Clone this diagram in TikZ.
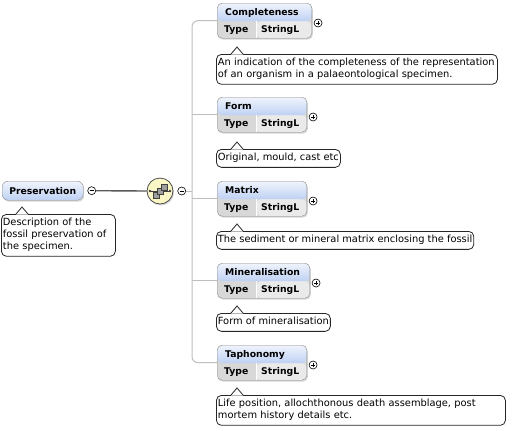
\documentclass[tikz,border=0pt]{standalone}
\usepackage{fontspec}
\setmainfont{DejaVu Sans}
\usetikzlibrary{positioning,shadows}

\definecolor{kopfoben}{HTML}{F0F4FD}
\definecolor{kopfunten}{HTML}{BED1F3}
\definecolor{zeile}{HTML}{D8D8D8}
\definecolor{zeilehell}{HTML}{EAEAEA}
\definecolor{rahmen}{HTML}{8A8A8A}
\definecolor{linie}{HTML}{BEBEBE}
\definecolor{gelb}{HTML}{FBF6C6}

\begin{document}
\begin{tikzpicture}[x=1bp,y=-1bp,font=\fontsize{9.9}{12}\selectfont,
	schatten/.style={drop shadow={shadow xshift=1bp,shadow yshift=-1.5bp,opacity=.3}},
	kopf/.style={anchor=west,inner sep=0pt,font=\fontsize{9.3}{12}\selectfont\bfseries},
	wurzel/.style={draw=rahmen,rounded corners=6bp,anchor=north west,minimum width=81bp,minimum height=19bp,inner sep=0pt,top color=kopfoben,bottom color=kopfunten,font=\fontsize{9.3}{12}\selectfont\bfseries,schatten},
	elbox/.style={draw=rahmen,rounded corners=5bp,anchor=north west,minimum height=35bp,inner sep=0pt,fill=zeile,schatten,
		path picture={
			\fill[zeilehell] ([xshift=39bp]path picture bounding box.south west) rectangle ([yshift=17bp]path picture bounding box.south east);
			\shade[top color=kopfoben,bottom color=kopfunten] ([yshift=17bp]path picture bounding box.south west) rectangle (path picture bounding box.north east);
			\draw[white] ([xshift=39bp]path picture bounding box.south west) -- ++(0,17bp);
		}},
	knopf/.style={circle,draw=black,fill=white,minimum size=8bp,inner sep=0pt,line width=.6bp},
	knopfplus/.style={knopf,path picture={
			\draw[line width=.6bp] ([xshift=-2bp]path picture bounding box.center) -- ++(4bp,0);
			\draw[line width=.6bp] ([yshift=-2bp]path picture bounding box.center) -- ++(0,4bp);}},
	knopfminus/.style={knopf,path picture={
			\draw[line width=.6bp] ([xshift=-2bp]path picture bounding box.center) -- ++(4bp,0);}},
	sequenz/.style={circle,draw=black!70,fill=gelb,minimum size=26bp,inner sep=0pt,line width=.8bp,schatten},
	besch/.style={draw=black!85,fill=white,rounded corners=5bp,anchor=north west,align=left,inner xsep=1.5bp,inner ysep=3bp,line width=.8bp},
	spitze/.style={draw=black!85,line width=.8bp},
	verbindung/.style={draw=linie,line width=1bp}]

	\fill[white] (0,0) rectangle (531,430);
	\useasboundingbox (0,0) rectangle (531,430);

	\def\element#1#2#3#4{
		\node[elbox,minimum width=#3] (#1) at (217,#2) {};
		\node[kopf] (#1-titel) at ([xshift=8bp,yshift=-9.5bp]#1.north west) {#4};
		\node[kopf] (#1-typ) at ([xshift=7bp,yshift=8.5bp]#1.south west) {Type};
		\node[kopf] (#1-wert) at ([xshift=44bp,yshift=8.5bp]#1.south west) {StringL};
		\node[knopfplus] (#1-plus) at ([xshift=6bp,yshift=-20bp]#1.north east) {};
	}

	\def\beschreibung#1#2#3#4#5{
		\node[besch,#4] (#1-text) at (#2,#3) {\strut #5\strut};
		\fill[white] ([xshift=15bp,yshift=-.5bp]#1-text.north west) -- ([xshift=21bp,yshift=6.5bp]#1-text.north west) -- ([xshift=27bp,yshift=-.5bp]#1-text.north west) -- cycle;
		\draw[spitze] ([xshift=15bp]#1-text.north west) -- ([xshift=21bp,yshift=7bp]#1-text.north west) -- ([xshift=27bp]#1-text.north west);
	}

	\node[wurzel] (preservation) at (2,181) {Preservation};
	\node[knopfminus,right=4bp of preservation] (pmin) {};
	\node[sequenz] (seq) at (160,191) {};
	\node[knopfminus,right=4bp of seq] (smin) {};
	\coordinate (stamm) at (192,191);

	\draw[black!65,line width=1.4bp] (pmin.east) -- (seq.west);

	\begin{scope}[shift={(seq.center)}]
		\draw[black!75,line width=.8bp] (-10,0) -- (10,0);
		\fill[black!75] (-10,0) circle[radius=1.3] (10,0) circle[radius=1.3];
		\draw[fill=gray!75,draw=black!75,line width=.6bp] (-7,1) rectangle (-1,7);
		\draw[fill=gray!75,draw=black!75,line width=.6bp] (-3,-3) rectangle (3,3);
		\draw[fill=gray!75,draw=black!75,line width=.6bp] (1,-7) rectangle (7,-1);
	\end{scope}

	\element{completeness}{3}{95}{Completeness}
	\element{form}{97}{90}{Form}
	\element{matrix}{181}{90}{Matrix}
	\element{mineralisation}{263}{93}{Mineralisation}
	\element{taphonomy}{345}{90}{Taphonomy}

	\draw[verbindung,rounded corners=6bp] (completeness.west) -- (completeness.west -| stamm) -- (taphonomy.west -| stamm) -- (taphonomy.west);
	\draw[verbindung] (smin.east) -- (stamm);
	\draw[verbindung] (form.west -| stamm) -- (form.west);
	\draw[verbindung] (matrix.west -| stamm) -- (matrix.west);
	\draw[verbindung] (mineralisation.west -| stamm) -- (mineralisation.west);

	\beschreibung{preservation}{1}{214}{text width=111bp}{Description of the\\fossil preservation of\\the specimen.}
	\beschreibung{completeness}{216}{54}{text width=278bp}{An indication of the completeness of the representation\\of an organism in a palaeontological specimen.}
	\beschreibung{form}{216}{149}{}{Original, mould, cast etc}
	\beschreibung{matrix}{216}{231}{}{The sediment or mineral matrix enclosing the fossil}
	\beschreibung{mineralisation}{216}{313}{}{Form of mineralisation}
	\beschreibung{taphonomy}{216}{395}{text width=286bp}{Life position, allochthonous death assemblage, post\\mortem history details etc.}
\end{tikzpicture}
\end{document}
